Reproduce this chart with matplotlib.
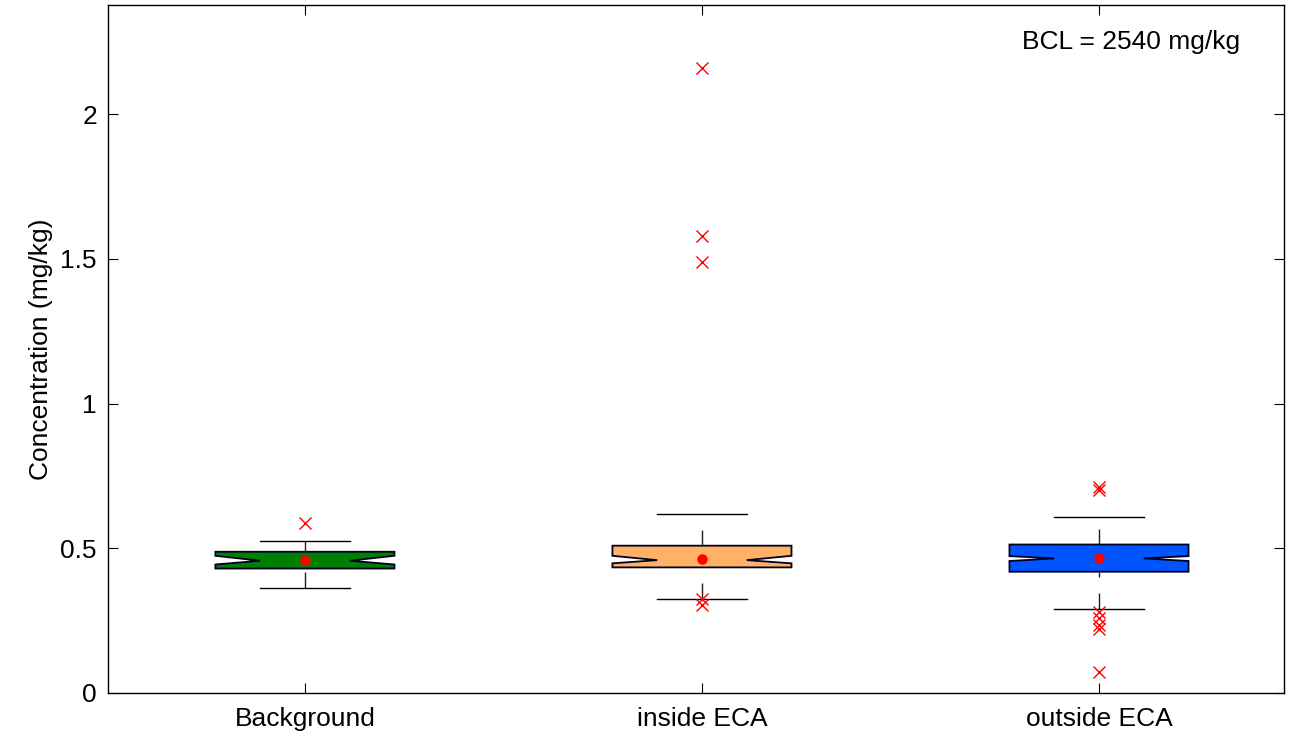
import numpy as np
import matplotlib
matplotlib.use("Agg")
import matplotlib.pyplot as plt

plt.rcParams['font.family'] = ['Liberation Sans', 'DejaVu Sans']

# box statistics (mg/kg)
groups = ["Background", "inside ECA", "outside ECA"]
medians = [0.457, 0.459, 0.465]
q1 = [0.430, 0.434, 0.419]
q3 = [0.488, 0.509, 0.513]
whis_lo = [0.362, 0.326, 0.289]
whis_hi = [0.526, 0.619, 0.608]
notch_lo = [0.444, 0.448, 0.456]
notch_hi = [0.474, 0.474, 0.473]
means = [0.458, 0.462, 0.466]
outliers = [
    [0.586],
    [2.158, 1.579, 1.488, 0.325, 0.305],
    [0.713, 0.701, 0.279, 0.258, 0.236, 0.222, 0.073],
]
box_colors = ["#008000", "#FFB266", "#0055FF"]

stats = []
for i, g in enumerate(groups):
    stats.append(dict(label=g, med=medians[i], q1=q1[i], q3=q3[i],
                      whislo=whis_lo[i], whishi=whis_hi[i],
                      cilo=notch_lo[i], cihi=notch_hi[i],
                      mean=means[i], fliers=outliers[i]))

fig = plt.figure(figsize=(12.97, 7.36), dpi=100)
ax = fig.add_axes([108 / 1297, 1 - 693 / 736, (1284 - 108) / 1297, (693 - 5) / 736])

bp = ax.bxp(stats, positions=[1, 2, 3], widths=0.451, shownotches=True,
            showmeans=True, patch_artist=True,
            boxprops=dict(edgecolor="#000020", linewidth=1.3),
            whiskerprops=dict(color="#202020", linewidth=1.0, linestyle=(0, (11.5, 11.5))),
            capprops=dict(color="black", linewidth=1.0),
            medianprops=dict(linewidth=0),
            meanprops=dict(marker="o", markerfacecolor="red", markeredgecolor="red",
                           markersize=6.5),
            flierprops=dict(marker="x", markeredgecolor="red", markersize=8.5,
                            markeredgewidth=1.0, linestyle="none"))

for patch, c in zip(bp["boxes"], box_colors):
    patch.set_facecolor(c)

# lower whiskers: dash pattern starts at the cap end
for w in bp["whiskers"][0::2]:
    x, y = w.get_data()
    w.set_data(np.asarray(x)[::-1], np.asarray(y)[::-1])

for m in bp["means"]:
    m.set_zorder(5)

ax.set_xlim(0.504, 3.466)
ax.set_ylim(0, 2.377)
ax.set_yticks([0, 0.5, 1, 1.5, 2])
ax.set_yticklabels(["0", "0.5", "1", "1.5", "2"])
ax.set_xticks([1, 2, 3])
ax.set_xticklabels(groups)
ax.tick_params(direction="in", length=7, width=0.8, labelsize=19,
               top=True, right=True)
ax.tick_params(axis="x", pad=10)
ax.tick_params(axis="y", pad=8)
ax.set_ylabel("Concentration (mg/kg)", fontsize=19, labelpad=5)
for s in ax.spines.values():
    s.set_linewidth(1.0)

ax.text(0.963, 0.946, "BCL = 2540 mg/kg", transform=ax.transAxes,
        ha="right", va="center", fontsize=19)

fig.savefig("out.png", dpi=100)
